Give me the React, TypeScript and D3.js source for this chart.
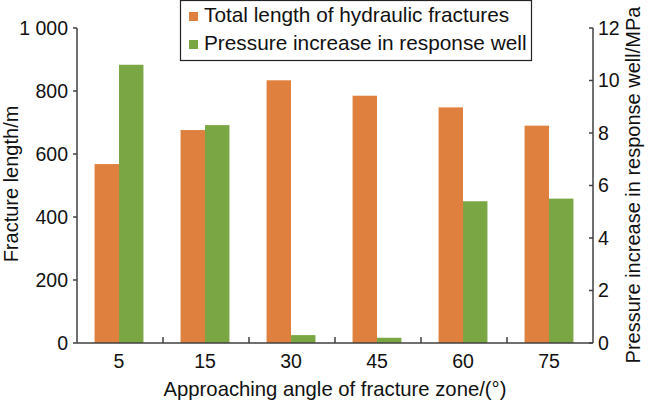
import React from "react";
import * as d3 from "d3";

const categories = ["5", "15", "30", "45", "60", "75"];
const lengthValues = [568, 676, 834, 785, 748, 690];
const pressureValues = [10.6, 8.3, 0.3, 0.2, 5.4, 5.5];
const leftTicks = [0, 200, 400, 600, 800, 1000];
const rightTicks = [0, 2, 4, 6, 8, 10, 12];
const seriesNames = ["Total length of hydraulic fractures", "Pressure increase in response well"];
const colors = ["#E0803F", "#7BA644"];

const W = 650, H = 403;
const margin = { left: 77, right: 57, top: 28, bottom: 60 };
const FONT = "'Liberation Sans', Arial, Helvetica, sans-serif";
const AXIS = "#404040";

export default function App() {
  const x0 = margin.left, x1 = W - margin.right;
  const y0 = H - margin.bottom, y1 = margin.top;
  const xBand = d3.scaleBand<string>().domain(categories).range([x0, x1]).padding(0);
  const inner = d3.scaleBand<string>().domain(["a", "b"]).range([0, xBand.bandwidth()]).paddingInner(0).paddingOuter(0.76);
  const yL = d3.scaleLinear().domain([0, 1000]).range([y0, y1]);
  const yR = d3.scaleLinear().domain([0, 12]).range([y0, y1]);
  const fmt = (v: number) => (v >= 1000 ? d3.format(",")(v).replace(",", " ") : String(v));
  const bw = inner.bandwidth();

  return (
    <svg width={W} height={H} style={{ position: "absolute", left: 0, top: 0, background: "#fff" }} fontFamily={FONT}>
      {/* bars */}
      {categories.map((c, i) => {
        const bx = xBand(c)! - 1;
        return (
          <g key={c}>
            <rect x={bx + inner("a")!} y={yL(lengthValues[i])} width={bw} height={y0 - yL(lengthValues[i])} fill={colors[0]} />
            <rect x={bx + inner("b")!} y={yR(pressureValues[i])} width={bw} height={y0 - yR(pressureValues[i])} fill={colors[1]} />
          </g>
        );
      })}
      {/* axes */}
      <line x1={x0} x2={x0} y1={y1} y2={y0} stroke={AXIS} strokeWidth={1.5} />
      <line x1={x1} x2={x1} y1={y1} y2={y0} stroke={AXIS} strokeWidth={1.5} />
      <line x1={x0} x2={x1} y1={y0} y2={y0} stroke={AXIS} strokeWidth={1.5} />
      {leftTicks.map((t) => (
        <g key={"l" + t}>
          <line x1={x0 - 4} x2={x0} y1={yL(t)} y2={yL(t)} stroke={AXIS} strokeWidth={1.5} />
          <text x={x0 - 9} y={yL(t)} dy="0.35em" textAnchor="end" fontSize={19.5} fill="#111">{fmt(t)}</text>
        </g>
      ))}
      {rightTicks.map((t) => (
        <g key={"r" + t}>
          <line x1={x1 - 4} x2={x1} y1={yR(t)} y2={yR(t)} stroke={AXIS} strokeWidth={1.5} />
          <text x={x1 + 5} y={yR(t)} dy="0.35em" textAnchor="start" fontSize={19.5} fill="#111">{t}</text>
        </g>
      ))}
      {categories.slice(1).map((c) => (
        <line key={"b" + c} x1={xBand(c)!} x2={xBand(c)!} y1={y0} y2={y0 - 6} stroke={AXIS} strokeWidth={1.5} />
      ))}
      {categories.map((c) => (
        <text key={"t" + c} x={xBand(c)! + xBand.bandwidth() / 2 - 1} y={368} textAnchor="middle" fontSize={19.5} fill="#111">{c}</text>
      ))}
      {/* axis titles */}
      <text x={(x0 + x1) / 2} y={396} textAnchor="middle" fontSize={20.3} fill="#111">Approaching angle of fracture zone/(°)</text>
      <text transform={`translate(17.5,184) rotate(-90)`} textAnchor="middle" fontSize={20} fill="#111">Fracture length/m</text>
      <text transform={`translate(640,185) rotate(-90)`} textAnchor="middle" fontSize={20} fill="#111">Pressure increase in response well/MPa</text>
      {/* legend */}
      <rect x={180.5} y={0.5} width={351} height={60} fill="#fff" stroke="#222" strokeWidth={1.2} />
      {seriesNames.map((s, i) => (
        <g key={s}>
          <rect x={189} y={12 + i * 28} width={9} height={9} fill={colors[i]} />
          <text x={204} y={22 + i * 28} fontSize={20.8} fill="#111">{s}</text>
        </g>
      ))}
    </svg>
  );
}
